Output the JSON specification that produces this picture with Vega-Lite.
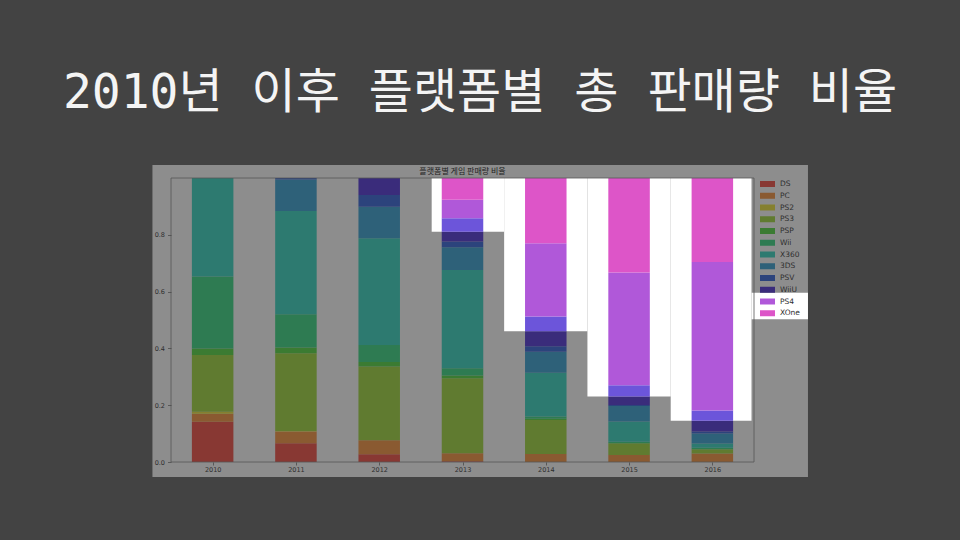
{
  "$schema": "https://vega.github.io/schema/vega-lite/v6.json",
  "width": 583,
  "height": 284,
  "autosize": {"type": "none"},
  "padding": {"left": 171, "top": 178, "right": 206, "bottom": 78},
  "background": "#434343",
  "title": {
    "text": "2010년 이후 플랫폼별 총 판매량 비율",
    "anchor": "middle",
    "frame": "group",
    "dx": 17.5,
    "offset": 47,
    "font": "DejaVu Sans Mono, Noto Sans CJK KR",
    "fontSize": 48,
    "fontWeight": "normal",
    "color": "#f4f4f4"
  },
  "datasets": {
    "sales": [
      {"year": 2010, "platform": "DS", "share": 0.142},
      {"year": 2010, "platform": "PC", "share": 0.028},
      {"year": 2010, "platform": "PS2", "share": 0.007},
      {"year": 2010, "platform": "PS3", "share": 0.2},
      {"year": 2010, "platform": "PSP", "share": 0.023},
      {"year": 2010, "platform": "Wii", "share": 0.253},
      {"year": 2010, "platform": "X360", "share": 0.347},
      {"year": 2011, "platform": "DS", "share": 0.066},
      {"year": 2011, "platform": "PC", "share": 0.041},
      {"year": 2011, "platform": "PS2", "share": 0.002},
      {"year": 2011, "platform": "PS3", "share": 0.274},
      {"year": 2011, "platform": "PSP", "share": 0.02},
      {"year": 2011, "platform": "Wii", "share": 0.117},
      {"year": 2011, "platform": "X360", "share": 0.364},
      {"year": 2011, "platform": "3DS", "share": 0.111},
      {"year": 2011, "platform": "PSV", "share": 0.005},
      {"year": 2012, "platform": "DS", "share": 0.027},
      {"year": 2012, "platform": "PC", "share": 0.05},
      {"year": 2012, "platform": "PS3", "share": 0.259},
      {"year": 2012, "platform": "PSP", "share": 0.016},
      {"year": 2012, "platform": "Wii", "share": 0.06},
      {"year": 2012, "platform": "X360", "share": 0.376},
      {"year": 2012, "platform": "3DS", "share": 0.111},
      {"year": 2012, "platform": "PSV", "share": 0.041},
      {"year": 2012, "platform": "WiiU", "share": 0.06},
      {"year": 2013, "platform": "DS", "share": 0.003},
      {"year": 2013, "platform": "PC", "share": 0.028},
      {"year": 2013, "platform": "PS3", "share": 0.264},
      {"year": 2013, "platform": "PSP", "share": 0.01},
      {"year": 2013, "platform": "Wii", "share": 0.025},
      {"year": 2013, "platform": "X360", "share": 0.346},
      {"year": 2013, "platform": "3DS", "share": 0.08},
      {"year": 2013, "platform": "PSV", "share": 0.02},
      {"year": 2013, "platform": "WiiU", "share": 0.035},
      {"year": 2013, "platform": "WiiU*", "share": 0.047},
      {"year": 2013, "platform": "PS4", "share": 0.065},
      {"year": 2013, "platform": "XOne", "share": 0.077},
      {"year": 2014, "platform": "PC", "share": 0.028},
      {"year": 2014, "platform": "PS3", "share": 0.12},
      {"year": 2014, "platform": "PSP", "share": 0.004},
      {"year": 2014, "platform": "Wii", "share": 0.008},
      {"year": 2014, "platform": "X360", "share": 0.154},
      {"year": 2014, "platform": "3DS", "share": 0.074},
      {"year": 2014, "platform": "PSV", "share": 0.02},
      {"year": 2014, "platform": "WiiU", "share": 0.052},
      {"year": 2014, "platform": "WiiU*", "share": 0.052},
      {"year": 2014, "platform": "PS4", "share": 0.258},
      {"year": 2014, "platform": "XOne", "share": 0.23},
      {"year": 2015, "platform": "PC", "share": 0.025},
      {"year": 2015, "platform": "PS3", "share": 0.04},
      {"year": 2015, "platform": "PSP", "share": 0.002},
      {"year": 2015, "platform": "Wii", "share": 0.004},
      {"year": 2015, "platform": "X360", "share": 0.072},
      {"year": 2015, "platform": "3DS", "share": 0.054},
      {"year": 2015, "platform": "PSV", "share": 0.004},
      {"year": 2015, "platform": "WiiU", "share": 0.03},
      {"year": 2015, "platform": "WiiU*", "share": 0.039},
      {"year": 2015, "platform": "PS4", "share": 0.397},
      {"year": 2015, "platform": "XOne", "share": 0.333},
      {"year": 2016, "platform": "PC", "share": 0.03},
      {"year": 2016, "platform": "PS3", "share": 0.015},
      {"year": 2016, "platform": "Wii", "share": 0.005},
      {"year": 2016, "platform": "X360", "share": 0.015},
      {"year": 2016, "platform": "3DS", "share": 0.035},
      {"year": 2016, "platform": "PSV", "share": 0.007},
      {"year": 2016, "platform": "WiiU", "share": 0.0385},
      {"year": 2016, "platform": "WiiU*", "share": 0.0355},
      {"year": 2016, "platform": "PS4", "share": 0.523},
      {"year": 2016, "platform": "XOne", "share": 0.296}
    ],
    "highlight": [
      {"from": 2012.63, "to": 2013.5, "floor": 0.811},
      {"from": 2013.5, "to": 2014.5, "floor": 0.46},
      {"from": 2014.5, "to": 2015.5, "floor": 0.231},
      {"from": 2015.5, "to": 2016.47, "floor": 0.1455}
    ]
  },
  "layer": [
    {
      "data": {"values": [{}]},
      "mark": {"type": "rect", "color": "#8d8d8d", "clip": false},
      "encoding": {
        "x": {"datum": 2009.277, "type": "quantitative", "scale": {"domain": [2009.5, 2016.5], "nice": false, "zero": false, "padding": 0}},
        "x2": {"datum": 2017.148},
        "y": {"datum": -0.0528, "type": "quantitative", "scale": {"domain": [0, 1], "nice": false, "padding": 0}},
        "y2": {"datum": 1.0458}
      }
    },
    {
      "data": {"name": "highlight"},
      "mark": {"type": "rect", "color": "#ffffff"},
      "encoding": {
        "x": {"field": "from", "type": "quantitative", "scale": {"domain": [2009.5, 2016.5], "nice": false, "zero": false, "padding": 0}},
        "x2": {"field": "to"},
        "y": {"field": "floor", "type": "quantitative", "scale": {"domain": [0, 1], "nice": false, "padding": 0}},
        "y2": {"datum": 1}
      }
    },
    {
      "data": {"values": [{}]},
      "mark": {"type": "rect", "color": "#ffffff", "clip": false},
      "encoding": {
        "x": {"datum": 2016.47, "type": "quantitative", "scale": {"domain": [2009.5, 2016.5], "nice": false, "zero": false, "padding": 0}},
        "x2": {"datum": 2017.148},
        "y": {"datum": 0.5025, "type": "quantitative", "scale": {"domain": [0, 1], "nice": false, "padding": 0}},
        "y2": {"datum": 0.596}
      }
    },
    {
      "data": {"name": "sales"},
      "transform": [
        {"calculate": "indexof(['DS','PC','PS2','PS3','PSP','Wii','X360','3DS','PSV','WiiU','WiiU*','PS4','XOne'], datum.platform)", "as": "rank"}
      ],
      "mark": {"type": "bar", "size": 41.5},
      "encoding": {
        "x": {
          "field": "year",
          "type": "quantitative",
          "scale": {"domain": [2009.5, 2016.5], "nice": false, "zero": false, "padding": 0},
          "axis": {"values": [2010, 2011, 2012, 2013, 2014, 2015, 2016], "format": "d", "labelPadding": 1, "tickSize": 3, "zindex": 1}
        },
        "y": {
          "field": "share",
          "type": "quantitative",
          "stack": "zero",
          "scale": {"domain": [0, 1], "nice": false, "padding": 0},
          "axis": {"values": [0, 0.2, 0.4, 0.6, 0.8], "format": ".1f", "labelPadding": 3, "tickSize": 3.5, "zindex": 1}
        },
        "color": {
          "field": "platform",
          "type": "nominal",
          "scale": {
            "domain": ["DS", "PC", "PS2", "PS3", "PSP", "Wii", "X360", "3DS", "PSV", "WiiU", "WiiU*", "PS4", "XOne"],
            "range": ["#883833", "#8a5a31", "#85802f", "#607b30", "#3b7b32", "#2e7b52", "#2d7a70", "#2e6179", "#2c437c", "#3a2c7b", "#6c55da", "#b058d9", "#dd55c8"]
          },
          "legend": {
            "values": ["DS", "PC", "PS2", "PS3", "PSP", "Wii", "X360", "3DS", "PSV", "WiiU", "PS4", "XOne"],
            "title": null,
            "orient": "none",
            "legendX": 589,
            "legendY": -1.5,
            "padding": 0,
            "symbolType": "M-1,-0.4H1V0.4H-1Z",
            "symbolSize": 225,
            "symbolStrokeWidth": 0,
            "symbolOpacity": 1,
            "labelFont": "DejaVu Sans",
            "labelFontSize": 7.5,
            "labelColor": "#2e2e2e",
            "labelOffset": 5,
            "rowPadding": 0.75
          }
        },
        "order": {"field": "rank", "type": "quantitative"}
      }
    },
    {
      "data": {"values": [{}]},
      "mark": {"type": "rect", "fillOpacity": 0, "stroke": "#575757", "strokeWidth": 0.8},
      "encoding": {
        "x": {"datum": 2009.5, "type": "quantitative", "scale": {"domain": [2009.5, 2016.5], "nice": false, "zero": false, "padding": 0}},
        "x2": {"datum": 2016.5},
        "y": {"datum": 0, "type": "quantitative", "scale": {"domain": [0, 1], "nice": false, "padding": 0}},
        "y2": {"datum": 1}
      }
    },
    {
      "data": {"values": [{}]},
      "mark": {
        "type": "text",
        "text": "플랫폼별 게임 판매량 비율",
        "font": "Noto Sans CJK KR",
        "fontSize": 8,
        "color": "#222222",
        "baseline": "middle",
        "dy": -6,
        "clip": false
      },
      "encoding": {
        "x": {"datum": 2013, "type": "quantitative", "scale": {"domain": [2009.5, 2016.5], "nice": false, "zero": false, "padding": 0}},
        "y": {"datum": 1, "type": "quantitative", "scale": {"domain": [0, 1], "nice": false, "padding": 0}}
      }
    }
  ],
  "config": {
    "view": {"stroke": null},
    "axis": {
      "title": null,
      "grid": false,
      "domain": false,
      "labelFont": "DejaVu Sans",
      "labelFontSize": 6.5,
      "labelColor": "#2e2e2e",
      "tickColor": "#4a4a4a",
      "tickWidth": 0.8
    }
  }
}
